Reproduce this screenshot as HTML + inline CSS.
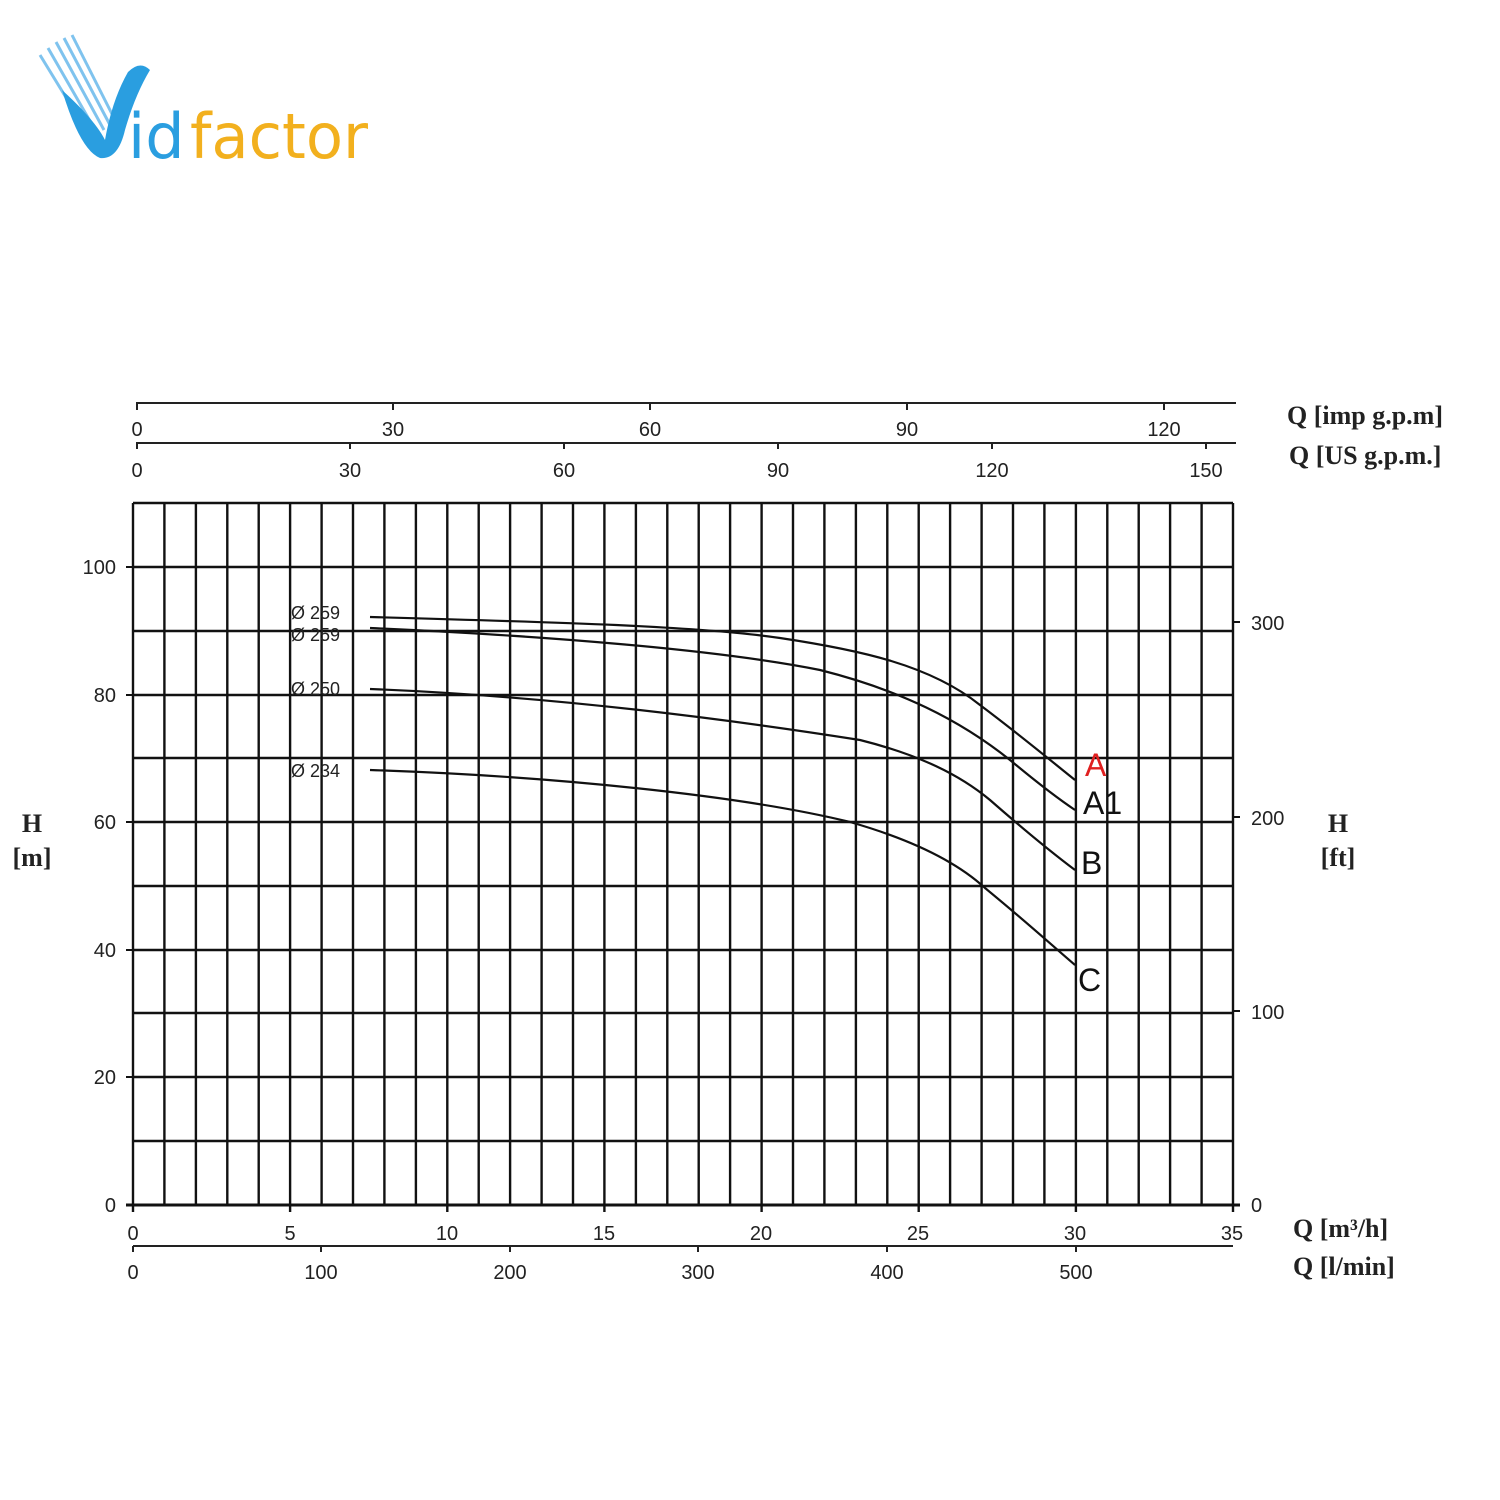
<!DOCTYPE html>
<html><head><meta charset="utf-8"><style>
html,body{margin:0;padding:0;background:#fff;}
svg{display:block;}
</style></head><body>
<svg width="1500" height="1500" viewBox="0 0 1500 1500" xmlns="http://www.w3.org/2000/svg" font-family="Liberation Sans, sans-serif">
<rect width="1500" height="1500" fill="#fff"/>
<g>
<g stroke="#7fc3ee" stroke-width="3">
<line x1="40" y1="55" x2="92" y2="140"/><line x1="48" y1="48" x2="98" y2="135"/><line x1="56" y1="42" x2="104" y2="130"/><line x1="64" y1="38" x2="110" y2="125"/><line x1="72" y1="35" x2="114" y2="118"/>
</g>
<path d="M62 90 Q80 150 100 158 Q118 160 125 130 Q135 95 150 70 Q140 60 128 72 Q112 100 105 140 Q95 120 62 90Z" fill="#2a9ee0"/>
<text x="128" y="158" font-size="62" fill="#2a9ee0" font-family="DejaVu Sans, sans-serif">id</text>
<text x="190" y="158" font-size="62" fill="#f2b01e" font-family="DejaVu Sans, sans-serif" textLength="178" lengthAdjust="spacingAndGlyphs">factor</text>
</g>
<g stroke="#111" stroke-width="2.4">
<line x1="133" y1="503" x2="1233" y2="503"/><line x1="133" y1="567" x2="1233" y2="567"/><line x1="133" y1="631" x2="1233" y2="631"/><line x1="133" y1="695" x2="1233" y2="695"/><line x1="133" y1="758" x2="1233" y2="758"/><line x1="133" y1="822" x2="1233" y2="822"/><line x1="133" y1="886" x2="1233" y2="886"/><line x1="133" y1="950" x2="1233" y2="950"/><line x1="133" y1="1013" x2="1233" y2="1013"/><line x1="133" y1="1077" x2="1233" y2="1077"/><line x1="133" y1="1141" x2="1233" y2="1141"/>
<line x1="126" y1="1205" x2="1240" y2="1205" stroke-width="3"/>
</g>
<g stroke="#111" stroke-width="2.4">
<path d="M133.0 503V1212M164.4 503V1205M195.9 503V1205M227.3 503V1205M258.7 503V1205M290.1 503V1212M321.6 503V1205M353.0 503V1205M384.4 503V1205M415.9 503V1205M447.3 503V1212M478.7 503V1205M510.1 503V1205M541.6 503V1205M573.0 503V1205M604.4 503V1212M635.9 503V1205M667.3 503V1205M698.7 503V1205M730.1 503V1205M761.6 503V1212M793.0 503V1205M824.4 503V1205M855.9 503V1205M887.3 503V1205M918.7 503V1212M950.1 503V1205M981.6 503V1205M1013.0 503V1205M1044.4 503V1205M1075.9 503V1212M1107.3 503V1205M1138.7 503V1205M1170.1 503V1205M1201.6 503V1205M1233.0 503V1212"/>
</g>
<g stroke="#111" stroke-width="2">
<path d="M126 567H133M126 695H133M126 822H133M126 950H133M126 1077H133M1233 622H1240M1233 817H1240M1233 1011H1240"/>
</g>
<g stroke="#222" stroke-width="2">
<line x1="136" y1="403" x2="1236" y2="403"/>
<line x1="136" y1="443" x2="1236" y2="443"/>
<path d="M137 403V410M393 403V410M650 403V410M907 403V410M1164 403V410"/>
<path d="M137 443V449M350 443V449M564 443V449M778 443V449M992 443V449M1206 443V449"/>
<line x1="133" y1="1246" x2="1233" y2="1246"/>
<path d="M133 1246V1252M321 1246V1252M510 1246V1252M698 1246V1252M887 1246V1252M1076 1246V1252"/>
</g>
<g font-size="20" fill="#222" text-anchor="middle">
<text x="137" y="436">0</text><text x="393" y="436">30</text><text x="650" y="436">60</text><text x="907" y="436">90</text><text x="1164" y="436">120</text>
<text x="137" y="477">0</text><text x="350" y="477">30</text><text x="564" y="477">60</text><text x="778" y="477">90</text><text x="992" y="477">120</text><text x="1206" y="477">150</text>
<text x="133" y="1240">0</text><text x="290" y="1240">5</text><text x="447" y="1240">10</text><text x="604" y="1240">15</text><text x="761" y="1240">20</text><text x="918" y="1240">25</text><text x="1075" y="1240">30</text><text x="1232" y="1240">35</text>
<text x="133" y="1279">0</text><text x="321" y="1279">100</text><text x="510" y="1279">200</text><text x="698" y="1279">300</text><text x="887" y="1279">400</text><text x="1076" y="1279">500</text>
</g>
<g font-size="20" fill="#222" text-anchor="end">
<text x="116" y="574">100</text><text x="116" y="702">80</text><text x="116" y="829">60</text><text x="116" y="957">40</text><text x="116" y="1084">20</text><text x="116" y="1212">0</text>
</g>
<g font-size="20" fill="#222">
<text x="1251" y="630">300</text><text x="1251" y="825">200</text><text x="1251" y="1019">100</text><text x="1251" y="1212">0</text>
</g>
<g font-family="Liberation Serif, serif" font-size="26" font-weight="bold" fill="#222">
<text x="1287" y="424">Q [imp g.p.m]</text>
<text x="1289" y="464">Q [US g.p.m.]</text>
<text x="1293" y="1237">Q [m³/h]</text>
<text x="1293" y="1275">Q [l/min]</text>
<text x="32" y="832" text-anchor="middle">H</text>
<text x="32" y="866" text-anchor="middle">[m]</text>
<text x="1338" y="832" text-anchor="middle">H</text>
<text x="1338" y="866" text-anchor="middle">[ft]</text>
</g>
<g fill="none" stroke="#111" stroke-width="2.2">
<path d="M370 617 C550 622 700 626 780 638 C860 650 930 665 980 705 C1020 735 1050 760 1075 780"/>
<path d="M370 628 C550 636 720 650 820 670 C900 690 960 720 1010 760 C1040 785 1060 800 1075 810"/>
<path d="M370 689 C550 696 720 718 860 740 C920 755 960 775 990 800 C1030 835 1055 855 1075 870"/>
<path d="M370 770 C550 776 740 795 850 822 C920 842 960 865 985 888 C1030 925 1055 948 1075 965"/>
</g>
<g font-size="18" fill="#222">
<text x="291" y="619">Ø 259</text><text x="291" y="641">Ø 259</text><text x="291" y="695">Ø 250</text><text x="291" y="777">Ø 234</text>
</g>
<g font-size="32" fill="#111">
<text x="1085" y="776" fill="#e02020">A</text>
<text x="1083" y="814">A1</text>
<text x="1081" y="874">B</text>
<text x="1078" y="991">C</text>
</g>
</svg>
</body></html>
